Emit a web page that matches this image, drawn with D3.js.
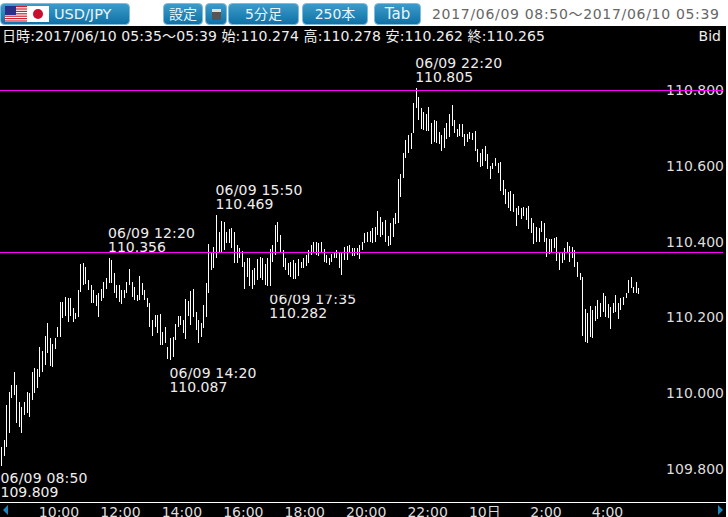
<!DOCTYPE html>
<html>
<head>
<meta charset="utf-8">
<script src="https://cdn.jsdelivr.net/npm/d3@7"></script>
<style>
  html, body { margin: 0; padding: 0; background: #fff; overflow: hidden; }
  svg { display: block; }
  text { font-family: "DejaVu Sans", "Noto Sans CJK JP", sans-serif; font-size: 14px; }
</style>
</head>
<body>
<svg width="728" height="517"></svg>
<script>
// 5 minute bars, 06/09 08:50 onwards
const highs = [
  109.858, 109.877, 109.969, 110.003, 110.021, 110.056, 110.021, 109.977, 109.964, 109.977,
  110.003, 110.000, 110.056, 110.066, 110.064, 110.122, 110.112, 110.151, 110.185, 110.146,
  110.130, 110.146, 110.175, 110.241, 110.241, 110.254, 110.251, 110.251, 110.225, 110.212,
  110.272, 110.341, 110.343, 110.333, 110.299, 110.285, 110.272, 110.259, 110.264, 110.275,
  110.293, 110.304, 110.356, 110.351, 110.317, 110.285, 110.285, 110.272, 110.272, 110.293,
  110.328, 110.293, 110.280, 110.259, 110.309, 110.291, 110.272, 110.251, 110.238, 110.193,
  110.206, 110.206, 110.209, 110.162, 110.175, 110.122, 110.146, 110.148, 110.183, 110.204,
  110.204, 110.193, 110.249, 110.243, 110.270, 110.275, 110.214, 110.193, 110.185, 110.233,
  110.291, 110.393, 110.370, 110.386, 110.469, 110.425, 110.454, 110.452, 110.425, 110.433,
  110.436, 110.425, 110.391, 110.383, 110.375, 110.346, 110.357, 110.357, 110.325, 110.330,
  110.354, 110.359, 110.357, 110.341, 110.357, 110.380, 110.391, 110.444, 110.452, 110.417,
  110.378, 110.357, 110.343, 110.346, 110.351, 110.343, 110.354, 110.346, 110.357, 110.365,
  110.378, 110.391, 110.399, 110.399, 110.396, 110.399, 110.380, 110.365, 110.357, 110.367,
  110.373, 110.378, 110.370, 110.370, 110.386, 110.388, 110.391, 110.383, 110.383, 110.383,
  110.391, 110.399, 110.423, 110.425, 110.428, 110.436, 110.439, 110.481, 110.465, 110.452,
  110.457, 110.415, 110.449, 110.462, 110.475, 110.565, 110.578, 110.634, 110.668, 110.681,
  110.687, 110.766, 110.805, 110.782, 110.753, 110.742, 110.737, 110.755, 110.713, 110.721,
  110.718, 110.689, 110.681, 110.700, 110.713, 110.737, 110.760, 110.721, 110.697, 110.710,
  110.710, 110.684, 110.684, 110.689, 110.687, 110.692, 110.644, 110.634, 110.644, 110.652,
  110.631, 110.599, 110.607, 110.621, 110.607, 110.610, 110.563, 110.539, 110.531, 110.534,
  110.526, 110.489, 110.494, 110.489, 110.491, 110.489, 110.494, 110.462, 110.449, 110.439,
  110.436, 110.454, 110.449, 110.409, 110.407, 110.407, 110.409, 110.412, 110.373, 110.373,
  110.383, 110.399, 110.388, 110.386, 110.378, 110.346, 110.317, 110.307, 110.222, 110.212,
  110.230, 110.220, 110.230, 110.246, 110.238, 110.264, 110.256, 110.235, 110.227, 110.238,
  110.259, 110.238, 110.251, 110.254, 110.264, 110.299, 110.307, 110.280, 110.293, 110.278,
]
const lows = [
  109.809, 109.834, 109.858, 109.895, 109.987, 109.995, 109.921, 109.911, 109.895, 109.942,
  109.948, 109.937, 109.982, 110.000, 110.013, 110.043, 110.056, 110.074, 110.106, 110.072,
  110.069, 110.117, 110.148, 110.148, 110.198, 110.204, 110.188, 110.204, 110.188, 110.196,
  110.201, 110.267, 110.285, 110.288, 110.272, 110.238, 110.238, 110.230, 110.201, 110.243,
  110.251, 110.275, 110.291, 110.291, 110.264, 110.251, 110.241, 110.235, 110.251, 110.264,
  110.285, 110.254, 110.246, 110.243, 110.246, 110.259, 110.246, 110.227, 110.175, 110.151,
  110.175, 110.159, 110.127, 110.127, 110.132, 110.090, 110.087, 110.095, 110.140, 110.175,
  110.180, 110.159, 110.143, 110.204, 110.180, 110.201, 110.167, 110.132, 110.148, 110.172,
  110.201, 110.264, 110.325, 110.330, 110.357, 110.373, 110.373, 110.378, 110.396, 110.396,
  110.383, 110.343, 110.343, 110.357, 110.333, 110.275, 110.307, 110.283, 110.275, 110.285,
  110.299, 110.304, 110.299, 110.285, 110.283, 110.282, 110.346, 110.365, 110.399, 110.373,
  110.333, 110.325, 110.312, 110.307, 110.301, 110.301, 110.309, 110.330, 110.330, 110.336,
  110.343, 110.365, 110.370, 110.365, 110.362, 110.370, 110.346, 110.343, 110.338, 110.346,
  110.357, 110.357, 110.330, 110.312, 110.351, 110.351, 110.370, 110.362, 110.362, 110.365,
  110.354, 110.378, 110.396, 110.399, 110.399, 110.396, 110.399, 110.417, 110.412, 110.417,
  110.399, 110.388, 110.391, 110.412, 110.446, 110.449, 110.518, 110.568, 110.621, 110.634,
  110.644, 110.687, 110.753, 110.721, 110.697, 110.694, 110.692, 110.692, 110.657, 110.663,
  110.660, 110.657, 110.639, 110.647, 110.671, 110.676, 110.705, 110.687, 110.676, 110.679,
  110.676, 110.652, 110.663, 110.671, 110.668, 110.639, 110.610, 110.597, 110.599, 110.613,
  110.592, 110.565, 110.592, 110.599, 110.581, 110.534, 110.523, 110.499, 110.489, 110.481,
  110.478, 110.441, 110.470, 110.460, 110.467, 110.457, 110.433, 110.423, 110.394, 110.399,
  110.399, 110.425, 110.399, 110.359, 110.367, 110.373, 110.383, 110.349, 110.325, 110.343,
  110.351, 110.373, 110.346, 110.357, 110.333, 110.307, 110.299, 110.151, 110.135, 110.132,
  110.148, 110.146, 110.190, 110.196, 110.201, 110.214, 110.201, 110.198, 110.169, 110.212,
  110.214, 110.196, 110.220, 110.233, 110.251, 110.264, 110.277, 110.264, 110.264, 110.262,
]

const priceTicks = [109.8, 110.0, 110.2, 110.4, 110.6, 110.8]
const timeTicks = [
  new Date(2017, 5, 9, 10), new Date(2017, 5, 9, 12), new Date(2017, 5, 9, 14),
  new Date(2017, 5, 9, 16), new Date(2017, 5, 9, 18), new Date(2017, 5, 9, 20),
  new Date(2017, 5, 9, 22), new Date(2017, 5, 10, 0), new Date(2017, 5, 10, 2),
  new Date(2017, 5, 10, 4),
]
const timeLabels = ['10:00', '12:00', '14:00', '16:00', '18:00', '20:00', '22:00', '10日', '2:00', '4:00']

// high and low markers: bar index, time text, price, side
const markBars = [0, 42, 66, 84, 105, 162]
const markTimes = ['06/09 08:50', '06/09 12:20', '06/09 14:20', '06/09 15:50', '06/09 17:35', '06/09 22:20']
const markPrices = [109.809, 110.356, 110.087, 110.469, 110.282, 110.805]
const markSides = ['low', 'high', 'low', 'high', 'low', 'high']

const levels = [110.8, 110.371]

const buttons = ['設定', '', '5分足', '250本', 'Tab']

const infoText = '日時:2017/06/10 05:35～05:39 始:110.274 高:110.278 安:110.262 終:110.265'
const rangeText = '2017/06/09 08:50～2017/06/10 05:39'

const start = new Date(2017, 5, 9, 8, 50)
const barTime = (i) => d3.timeMinute.offset(start, i * 5)

const svg = d3.select('svg')

const x = d3.scaleTime()
  .domain([start, barTime(highs.length - 1)])
  .range([1.5, 638.9])
const y = d3.scaleLinear().domain([109.8, 110.8]).range([469, 90])

// Header
const defs = svg.append('defs')
const grad = defs.append('linearGradient')
  .attr('id', 'btn')
  .attr('x1', 0).attr('y1', 0).attr('x2', 0).attr('y2', 1)
grad.append('stop').attr('offset', '0%').attr('stop-color', '#3f9bc9')
grad.append('stop').attr('offset', '50%').attr('stop-color', '#2587b8')
grad.append('stop').attr('offset', '100%').attr('stop-color', '#0f6fa6')

const drawButton = (x0, x1, label, size) => {
  svg.append('rect')
    .attr('x', x0 + 0.5).attr('y', 3.5)
    .attr('width', x1 - x0 - 1).attr('height', 21)
    .attr('rx', 4)
    .attr('fill', 'url(#btn)')
    .attr('stroke', '#7fbcdb')
  svg.append('text')
    .attr('x', (x0 + x1) / 2).attr('y', 19)
    .attr('text-anchor', 'middle')
    .attr('fill', '#e8f4fa')
    .style('font-size', size)
    .text(label)
}

drawButton(0, 130, '', '14px')
const buttonEdges = [[163, 203], [205, 227], [228, 299], [302, 368], [374, 421]]
const buttonSizes = ['14px', '14px', '14px', '14px', '15px']
buttonEdges.forEach((e, i) => drawButton(e[0], e[1], buttons[i], buttonSizes[i]))

svg.append('text')
  .attr('x', 54).attr('y', 19)
  .attr('fill', '#e8f4fa')
  .style('font-size', '14.5px')
  .text('USD/JPY')

// flags
svg.append('rect').attr('x', 5).attr('y', 6).attr('width', 22).attr('height', 16).attr('fill', '#fff')
d3.range(0, 7).forEach((i) => {
  svg.append('rect')
    .attr('x', 5).attr('y', 6 + i * 2.4)
    .attr('width', 22).attr('height', 1.2)
    .attr('fill', '#d0202c')
})
svg.append('rect').attr('x', 5).attr('y', 6).attr('width', 11).attr('height', 9).attr('fill', '#2a2f8c')
svg.append('rect').attr('x', 27).attr('y', 6).attr('width', 22).attr('height', 16).attr('fill', '#fff')
svg.append('circle').attr('cx', 38).attr('cy', 14).attr('r', 5).attr('fill', '#c8102e')

// calculator icon
svg.append('rect')
  .attr('x', 212).attr('y', 9).attr('width', 9).attr('height', 11).attr('rx', 1.5)
  .attr('fill', '#555')
svg.append('rect')
  .attr('x', 212).attr('y', 9).attr('width', 9).attr('height', 3)
  .attr('fill', '#ddd')

svg.append('text')
  .attr('x', 432).attr('y', 19)
  .attr('fill', '#666')
  .attr('textLength', 287)
  .text(rangeText)

// Chart area
svg.append('rect')
  .attr('x', 0).attr('y', 26)
  .attr('width', 726).attr('height', 491)
  .attr('fill', '#000')

svg.append('text')
  .attr('x', 2).attr('y', 41)
  .attr('fill', '#eee')
  .attr('textLength', 543)
  .text(infoText)
svg.append('text')
  .attr('x', 721).attr('y', 41)
  .attr('text-anchor', 'end')
  .attr('fill', '#eee')
  .text('Bid')

// price axis, labels only
const yAxis = d3.axisLeft(y)
  .tickValues(priceTicks)
  .tickFormat(d3.format('.3f'))
  .tickSize(0)
  .tickPadding(0)
const yG = svg.append('g').attr('transform', 'translate(724,0)').call(yAxis)
yG.select('.domain').remove()
yG.selectAll('text')
  .attr('fill', '#ddd')
  .style('font-size', '14px')
  .style('font-family', '"DejaVu Sans", sans-serif')

// time axis, labels start at the tick
const xAxis = d3.axisBottom(x)
  .tickValues(timeTicks)
  .tickFormat((d, i) => timeLabels[i])
  .tickSize(0)
  .tickPadding(0)
const xG = svg.append('g').attr('transform', 'translate(0,502)').call(xAxis)
xG.select('.domain').remove()
xG.selectAll('text')
  .attr('fill', '#ddd')
  .attr('text-anchor', 'start')
  .attr('x', 1)
  .attr('y', 2)
  .attr('dy', '0.9em')
  .style('font-size', '14px')
  .style('font-family', '"DejaVu Sans", "Noto Sans CJK JP", sans-serif')

svg.append('line')
  .attr('x1', 0).attr('x2', 726)
  .attr('y1', 502.5).attr('y2', 502.5)
  .attr('stroke', '#fff')

svg.append('path').attr('d', 'M3 510L8 505V515Z').attr('fill', '#1c86c0')
svg.append('path').attr('d', 'M723 510L718 505V515Z').attr('fill', '#1c86c0')

// marker texts go under the level lines
const marks = svg.append('g')
markBars.forEach((b, i) => {
  const px = x(barTime(b)) - 1
  const py = y(markPrices[i])
  const off = markSides[i] === 'high' ? [-20, -6] : [17.5, 31.5]
  marks.append('text')
    .attr('x', px).attr('y', py + off[0])
    .attr('fill', '#eee')
    .attr('textLength', 87)
    .text(markTimes[i])
  marks.append('text')
    .attr('x', px).attr('y', py + off[1])
    .attr('fill', '#eee')
    .text(d3.format('.3f')(markPrices[i]))
})

// the 17:35 label has its top row of pixels covered in the chart
marks.append('rect')
  .attr('x', x(barTime(markBars[4])) - 2)
  .attr('y', y(markPrices[4]))
  .attr('width', 92)
  .attr('height', 8.5)
  .attr('fill', '#000')

// bars
svg.append('g')
  .attr('stroke', '#fff')
  .attr('shape-rendering', 'crispEdges')
  .selectAll('line')
  .data(highs)
  .join('line')
  .attr('x1', (d, i) => Math.floor(x(barTime(i))) + 0.5)
  .attr('x2', (d, i) => Math.floor(x(barTime(i))) + 0.5)
  .attr('y1', (d) => y(d))
  .attr('y2', (d, i) => y(lows[i]))

svg.append('g')
  .attr('shape-rendering', 'crispEdges')
  .selectAll('line')
  .data(levels)
  .join('line')
  .attr('x1', 0)
  .attr('x2', 723)
  .attr('y1', (d) => Math.floor(y(d)) + 0.5)
  .attr('y2', (d) => Math.floor(y(d)) + 0.5)
  .attr('stroke', '#f0f')
</script>
</body>
</html>
